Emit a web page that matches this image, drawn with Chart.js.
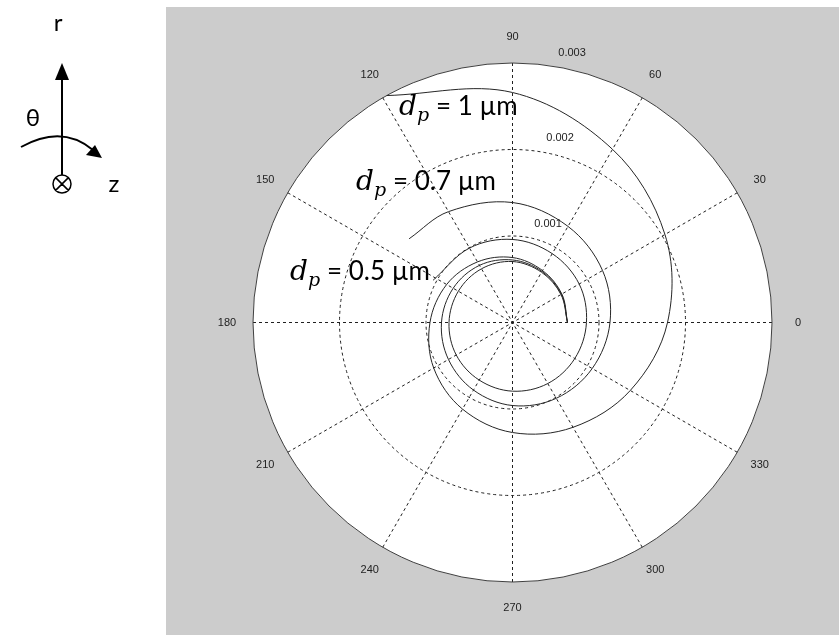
<!DOCTYPE html>
<html>
<head>
<meta charset="utf-8">
<script src="https://cdn.jsdelivr.net/npm/chart.js@4.4.0/dist/chart.umd.min.js"></script>
<style>
  html, body { margin: 0; padding: 0; background: #fff; }
  #wrap { position: relative; width: 839px; height: 635px; }
</style>
</head>
<body>
<div id="wrap"><canvas id="spiralChart" width="839" height="635"></canvas></div>
<script>
// particle trajectories: angle (deg) and radial position (m)
const theta10 = [0, 30, 60, 90, 120, 150, 180, 210, 240, 270, 300, 330, 360, 390, 420, 450, 479];
const r10 = [0.000636, 0.000659, 0.000694, 0.000751, 0.000809, 0.000879, 0.000954, 0.001052, 0.001156,
             0.001272, 0.001399, 0.001572, 0.001792, 0.002035, 0.002312, 0.002659, 0.003000];

const theta07 = [0, 30, 60, 90, 120, 150, 180, 210, 240, 270, 300, 330, 360, 390, 420, 450, 480, 501];
const r07 = [0.000636, 0.000653, 0.000682, 0.000723, 0.000763, 0.000792, 0.000821, 0.000855, 0.000902,
             0.000960, 0.001012, 0.001064, 0.001127, 0.001202, 0.001283, 0.001387, 0.001480, 0.001538];

const theta05 = [0, 30, 60, 90, 120, 150, 180, 210, 240, 270, 300, 330, 360, 390, 420, 450, 480, 512];
const r05 = [0.000636, 0.000647, 0.000671, 0.000705, 0.000717, 0.000723, 0.000734, 0.000751, 0.000769,
             0.000794, 0.000815, 0.000832, 0.000855, 0.000890, 0.000919, 0.000960, 0.000994, 0.001040];

const angleTicks = [0, 30, 60, 90, 120, 150, 180, 210, 240, 270, 300, 330];
const radialTicks = [0.001, 0.002, 0.003];
const rMax = 0.003;

const curveLabels = [
    { text: '= 1 µm', x: 399, y: 115 },
    { text: '= 0.7 µm', x: 356, y: 190 },
    { text: '= 0.5 µm', x: 290, y: 280 }
];

const deg = Math.PI / 180;
function toXY(th, r) {
    return th.map((t, i) => ({ x: r[i] * Math.cos(t * deg), y: r[i] * Math.sin(t * deg) }));
}

function curve(label, th, r) {
    return {
        label: label,
        data: toXY(th, r),
        showLine: true,
        borderColor: '#262626',
        borderWidth: 1,
        pointRadius: 0,
        tension: 0.35,
        fill: false
    };
}

// matlab-like polar frame: grey figure, white disk, dotted rings and spokes
const polarFrame = {
    id: 'polarFrame',
    beforeDraw(chart) {
        const ctx = chart.ctx;
        const xs = chart.scales.x, ys = chart.scales.y;
        const cx = xs.getPixelForValue(0), cy = ys.getPixelForValue(0);
        const R = xs.getPixelForValue(rMax) - cx;
        ctx.save();
        ctx.fillStyle = '#cccccc';
        ctx.fillRect(166, 7, chart.width - 166, chart.height - 7);
        ctx.fillStyle = '#ffffff';
        ctx.beginPath();
        ctx.arc(cx, cy, R, 0, 2 * Math.PI);
        ctx.fill();

        ctx.strokeStyle = '#202020';
        ctx.lineWidth = 1;
        ctx.setLineDash([3, 3]);
        // spokes every 30 degrees
        for (let a = 30; a <= 180; a += 30) {
            const dx = R * Math.cos(a * deg), dy = R * Math.sin(a * deg);
            ctx.beginPath();
            ctx.moveTo(cx - dx, cy + dy);
            ctx.lineTo(cx + dx, cy - dy);
            ctx.stroke();
        }
        // inner rings dotted, outer ring solid
        radialTicks.forEach(v => {
            const rp = xs.getPixelForValue(v) - cx;
            ctx.setLineDash(v < rMax ? [3, 3] : []);
            ctx.strokeStyle = v < rMax ? '#202020' : '#404040';
            ctx.beginPath();
            ctx.arc(cx, cy, rp, 0, 2 * Math.PI);
            ctx.stroke();
        });
        ctx.setLineDash([]);

        ctx.fillStyle = '#222';
        ctx.font = '11px "Liberation Sans", Arial, sans-serif';
        // ring values along the 82 degree ray
        ctx.textAlign = 'left';
        ctx.textBaseline = 'bottom';
        const pad = ctx.measureText('  ').width;
        radialTicks.forEach(v => {
            const rp = xs.getPixelForValue(v + 0.001 / 20) - cx;
            ctx.fillText(String(v), cx + rp * Math.cos(82 * deg) + pad + 3, cy - rp * Math.sin(82 * deg) - 3);
        });
        // angle labels
        ctx.textAlign = 'center';
        ctx.textBaseline = 'middle';
        angleTicks.forEach(a => {
            ctx.fillText(String(a), cx + 1.1 * R * Math.cos(a * deg), cy - 1.1 * R * Math.sin(a * deg));
        });
        ctx.restore();
    },
    afterDraw(chart) {
        const ctx = chart.ctx;
        ctx.save();
        ctx.fillStyle = '#000';
        ctx.textBaseline = 'alphabetic';
        ctx.textAlign = 'left';
        // d_p labels next to each trajectory
        curveLabels.forEach(l => {
            ctx.font = 'italic 28px "DejaVu Serif", serif';
            ctx.fillText('d', l.x, l.y);
            const w = ctx.measureText('d').width;
            ctx.font = 'italic 19px "DejaVu Serif", serif';
            ctx.fillText('p', l.x + w, l.y + 6);
            ctx.font = '26px Lato, sans-serif';
            ctx.fillText(l.text, l.x + 37, l.y);
        });

        // coordinate sketch: r up, theta around, z into the page
        ctx.strokeStyle = '#000';
        ctx.lineWidth = 2;
        ctx.font = '24px Lato, sans-serif';
        ctx.textAlign = 'center';
        ctx.fillText('r', 58, 31);
        ctx.fillText('θ', 33, 126);
        ctx.fillText('z', 114, 192);

        ctx.beginPath();
        ctx.moveTo(62, 175);
        ctx.lineTo(62, 78);
        ctx.stroke();
        ctx.beginPath();
        ctx.moveTo(62, 63);
        ctx.lineTo(55, 80);
        ctx.lineTo(69, 80);
        ctx.closePath();
        ctx.fill();

        ctx.beginPath();
        ctx.moveTo(21, 147);
        ctx.quadraticCurveTo(62, 124, 93, 150);
        ctx.stroke();
        ctx.beginPath();
        ctx.moveTo(102, 158);
        ctx.lineTo(86, 155);
        ctx.lineTo(95, 145);
        ctx.closePath();
        ctx.fill();

        ctx.lineWidth = 1.5;
        ctx.beginPath();
        ctx.arc(62, 184, 9, 0, 2 * Math.PI);
        ctx.moveTo(55.6, 177.6); ctx.lineTo(68.4, 190.4);
        ctx.moveTo(68.4, 177.6); ctx.lineTo(55.6, 190.4);
        ctx.stroke();
        ctx.restore();
    }
};

new Chart(document.getElementById('spiralChart'), {
    type: 'scatter',
    data: {
        datasets: [
            curve('d_p = 1 µm', theta10, r10),
            curve('d_p = 0.7 µm', theta07, r07),
            curve('d_p = 0.5 µm', theta05, r05)
        ]
    },
    options: {
        responsive: false,
        devicePixelRatio: 1,
        animation: false,
        layout: { padding: { left: 253, right: 67, top: 63, bottom: 53 } },
        scales: {
            x: { type: 'linear', min: -rMax, max: rMax, display: false },
            y: { type: 'linear', min: -rMax, max: rMax, display: false }
        },
        plugins: {
            legend: { display: false },
            tooltip: { enabled: false }
        }
    },
    plugins: [polarFrame]
});
</script>
</body>
</html>
